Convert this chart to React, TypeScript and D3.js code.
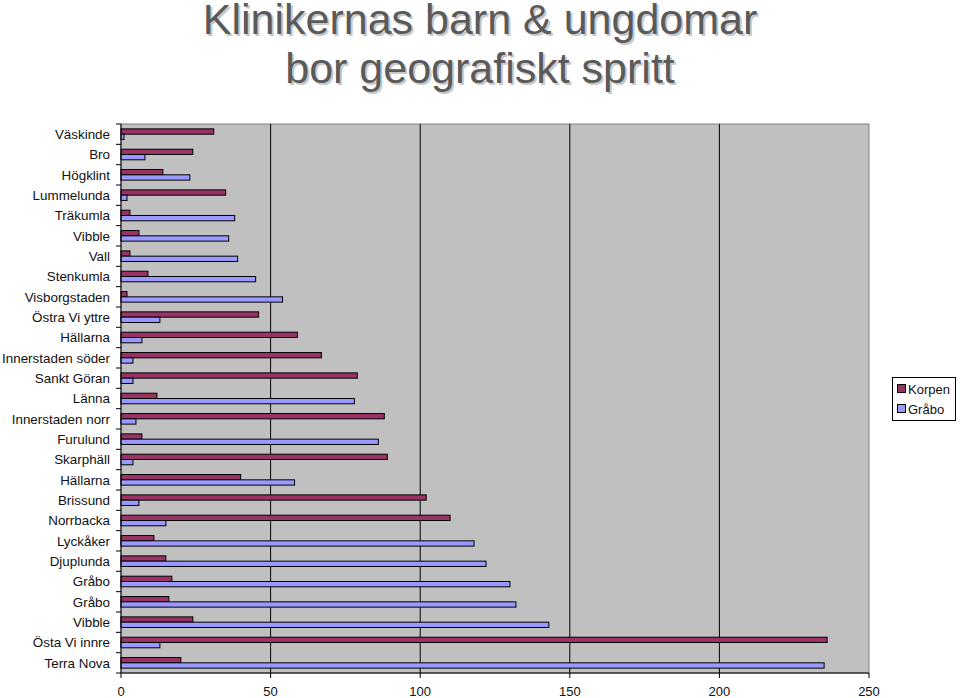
import React from "react";
import * as d3 from "d3";

const categories = [
  "Väskinde", "Bro", "Högklint", "Lummelunda", "Träkumla", "Vibble", "Vall",
  "Stenkumla", "Visborgstaden", "Östra Vi yttre", "Hällarna", "Innerstaden söder",
  "Sankt Göran", "Länna", "Innerstaden norr", "Furulund", "Skarphäll", "Hällarna",
  "Brissund", "Norrbacka", "Lyckåker", "Djuplunda", "Gråbo", "Gråbo", "Vibble",
  "Östa Vi innre", "Terra Nova",
];
const korpen = [31, 24, 14, 35, 3, 6, 3, 9, 2, 46, 59, 67, 79, 12, 88, 7, 89, 40, 102, 110, 11, 15, 17, 16, 24, 236, 20];
const grabo = [1, 8, 23, 2, 38, 36, 39, 45, 54, 13, 7, 4, 4, 78, 5, 86, 4, 58, 6, 15, 118, 122, 130, 132, 143, 13, 235];
const seriesNames = ["Korpen", "Gråbo"];
const seriesColors = ["#993366", "#9999FF"];
const xTicks = [0, 50, 100, 150, 200, 250];
const titleLines = ["Klinikernas barn & ungdomar", "bor geografiskt spritt"];

const W = 960;
const H = 698;
const left = 121;
const right = 869;
const top = 124;
const bottom = 673;
const font = "'Liberation Sans', Arial, sans-serif";

export default function App() {
  const x = d3.scaleLinear().domain([0, 250]).range([left, right]);
  const idx = categories.map((_, i) => i);
  const y = d3.scaleBand<number>().domain(idx).range([top, bottom]).padding(0);
  const inner = d3
    .scaleBand<string>()
    .domain(seriesNames)
    .range([0, y.bandwidth()])
    .paddingInner(0)
    .paddingOuter(0.92);
  const values = [korpen, grabo];
  const boundaries = idx.map((i) => y(i)!).concat([bottom]);

  return (
    <svg
      width={W}
      height={H}
      style={{ position: "absolute", left: 0, top: 0, background: "#fff" }}
      fontFamily={font}
    >
      {/* title */}
      {titleLines.map((t, i) => (
        <g key={i}>
          <text
            x={482}
            y={36 + i * 49}
            textAnchor="middle"
            fontSize={43}
            fill="#c8c8c8"
          >
            {t}
          </text>
          <text
            x={480}
            y={34 + i * 49}
            textAnchor="middle"
            fontSize={43}
            fill="#5a5a5a"
          >
            {t}
          </text>
        </g>
      ))}
      {/* plot area */}
      <rect x={left} y={top} width={right - left} height={bottom - top} fill="#C0C0C0" stroke="#808080" strokeWidth={1} />
      {xTicks.slice(1, -1).map((t) => (
        <line key={t} x1={x(t)} x2={x(t)} y1={top} y2={bottom} stroke="#000" strokeWidth={1} />
      ))}
      {/* bars */}
      {idx.map((i) =>
        seriesNames.map((s, si) => (
          <rect
            key={i + "-" + s}
            x={x(0)}
            y={y(i)! + inner(s)!}
            width={x(values[si][i]) - x(0)}
            height={inner.bandwidth()}
            fill={seriesColors[si]}
            stroke="#000"
            strokeWidth={1}
          />
        ))
      )}
      {/* axes */}
      <line x1={left} x2={left} y1={top} y2={bottom} stroke="#000" strokeWidth={1} />
      <line x1={left} x2={right} y1={bottom} y2={bottom} stroke="#000" strokeWidth={1} />
      {boundaries.map((b, i) => (
        <line key={"yt" + i} x1={left - 5} x2={left} y1={b} y2={b} stroke="#000" />
      ))}
      {idx.map((i) => (
        <text
          key={"yl" + i}
          x={110}
          y={y(i)! + y.bandwidth() / 2}
          dy="0.35em"
          textAnchor="end"
          fontSize={13.4}
          fill="#111"
        >
          {categories[i]}
        </text>
      ))}
      {xTicks.map((t) => (
        <g key={"xt" + t}>
          <line x1={x(t)} x2={x(t)} y1={bottom} y2={bottom + 5} stroke="#000" />
          <text x={x(t)} y={696} textAnchor="middle" fontSize={13} fill="#111">
            {t}
          </text>
        </g>
      ))}
      {/* legend */}
      <rect x={892.5} y={377.5} width={63} height={43} fill="#fff" stroke="#000" />
      {seriesNames.map((s, i) => (
        <g key={"lg" + s}>
          <rect x={897.5} y={384.5 + i * 20} width={8} height={8} fill={seriesColors[i]} stroke="#000" />
          <text x={908} y={389 + i * 20} dy="0.35em" fontSize={13} fill="#111">
            {s}
          </text>
        </g>
      ))}
    </svg>
  );
}
